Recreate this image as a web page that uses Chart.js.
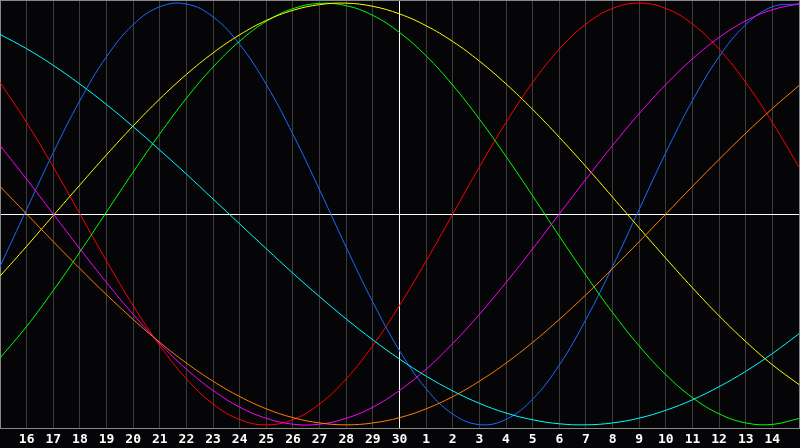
<!DOCTYPE html>
<html lang="en">
  <head>
    <meta charset="UTF-8"/>
    <title>Biorhythm</title>
    <style>
      html, body { margin:0; padding:0; background:#050508; }
      #wrap { width:800px; height:448px; position:relative; }
    </style>
  </head>
  <body>
    <div id="wrap"><canvas id="Chart"></canvas></div>
    <script src="https://cdn.jsdelivr.net/npm/chart.js@4.4.1/dist/chart.umd.min.js"></script>
    <script>
      // days shown along the bottom (first and last are the frame edges, unlabeled)
      var days = ['15','16','17','18','19','20','21','22','23','24','25','26','27','28','29','30',
                  '1','2','3','4','5','6','7','8','9','10','11','12','13','14','15'];

      // cycle values read per day, -1 .. 1
      var red = [0.624,0.434,0.223,0,-0.223,-0.434,-0.624,-0.782,-0.901,-0.975,-1,-0.975,-0.901,-0.782,-0.624,-0.434,
                 -0.223,0,0.223,0.434,0.624,0.782,0.901,0.975,1,0.975,0.901,0.782,0.624,0.434,0.223];
      var blue = [-0.249,0.022,0.291,0.538,0.746,0.898,0.983,0.996,0.935,0.804,0.614,0.378,0.114,-0.158,-0.418,-0.648,
                  -0.829,-0.949,-0.999,-0.974,-0.878,-0.716,-0.500,-0.249,0.022,0.291,0.538,0.746,0.898,0.983,0.996];
      var green = [-0.683,-0.533,-0.363,-0.180,0.010,0.199,0.380,0.549,0.697,0.820,0.914,0.974,0.999,0.988,0.942,0.861,
                   0.750,0.611,0.450,0.273,0.086,-0.105,-0.291,-0.467,-0.626,-0.762,-0.871,-0.948,-0.991,-0.998,-0.970];
      var yellow = [-0.295,-0.153,-0.007,0.138,0.281,0.418,0.546,0.662,0.764,0.850,0.918,0.966,0.993,1.000,0.985,0.949,
                    0.893,0.818,0.725,0.617,0.496,0.364,0.225,0.080,-0.066,-0.210,-0.350,-0.483,-0.605,-0.715,-0.809];
      var magenta = [0.325,0.165,0,-0.165,-0.325,-0.476,-0.614,-0.736,-0.837,-0.916,-0.969,-0.997,-0.997,-0.969,-0.916,-0.837,
                     -0.736,-0.614,-0.476,-0.325,-0.165,0,0.165,0.325,0.476,0.614,0.736,0.837,0.916,0.969,0.997];
      var orange = [0.131,0,-0.131,-0.259,-0.383,-0.500,-0.609,-0.707,-0.793,-0.866,-0.924,-0.966,-0.991,-1,-0.991,-0.966,
                    -0.924,-0.866,-0.793,-0.707,-0.609,-0.500,-0.383,-0.259,-0.131,0,0.131,0.259,0.383,0.500,0.609];
      var cyan = [0.852,0.784,0.705,0.616,0.519,0.414,0.303,0.189,0.071,-0.047,-0.165,-0.281,-0.392,-0.498,-0.597,-0.688,
                  -0.769,-0.839,-0.898,-0.944,-0.976,-0.995,-1.000,-0.991,-0.968,-0.931,-0.881,-0.819,-0.746,-0.662,-0.568];

      var lim = 1.015;
      function line(data, color){
        return { data:data, borderColor:color, borderWidth:1, pointRadius:0, tension:0.4, fill:false };
      }

      var ctx = document.getElementById('Chart').getContext('2d');
      var chart = new Chart(ctx, {
        type: 'line',
        data: {
          labels: days,
          datasets: [
            line(cyan, '#00ffff'),
            line(orange, '#ff8000'),
            line(magenta, '#ff00ff'),
            line(yellow, '#ffff00'),
            line(green, '#00ff00'),
            line(blue, '#1a6cff'),
            line(red, '#ff0000')
          ]
        },
        options: {
          responsive: true,
          maintainAspectRatio: false,
          animation: false,
          layout: { padding: { right: 1 } },
          plugins: { legend: { display:false }, tooltip: { enabled:false } },
          scales: {
            x: {
              offset: false,
              afterFit: function(s){ s.height = 20; s.paddingLeft = 0; s.paddingRight = 0; },
              grid: {
                drawTicks: false,
                color: function(c){
                  if (c.index === 15) return '#ffffff';
                  if (c.index === 0 || c.index === 30) return '#888888';
                  return '#3c3c3c';
                }
              },
              border: { color:'#888888' },
              ticks: {
                autoSkip: false, maxRotation: 0, padding: 4, color: '#ffffff',
                font: { family: 'DejaVu Sans Mono', size: 13, weight: 'bold' },
                callback: function(v, i){ return (i === 0 || i === 30) ? '' : days[i]; }
              }
            },
            y: {
              min: -lim, max: lim,
              afterFit: function(s){ s.width = 0; },
              afterBuildTicks: function(s){ s.ticks = [{value:-lim},{value:0},{value:lim}]; },
              grid: {
                drawTicks: false,
                color: function(c){ return c.tick.value === 0 ? '#ffffff' : '#888888'; }
              },
              border: { color:'#888888' },
              ticks: { display: false }
            }
          }
        }
      });
    </script>
  </body>
</html>
